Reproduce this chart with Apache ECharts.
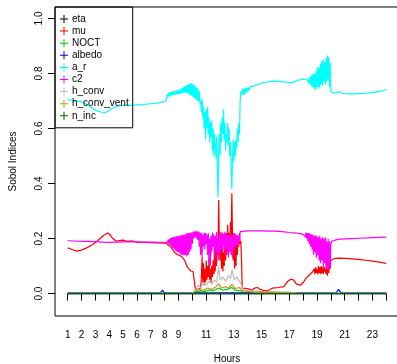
<!DOCTYPE html>
<html>
<head>
<meta charset="utf-8">
<script src="https://cdn.jsdelivr.net/npm/echarts@6/dist/echarts.min.js"></script>
<style>html,body{margin:0;padding:0;background:#fff}#c{width:397px;height:364px}</style>
</head>
<body>
<div id="c"></div>
<script>
const seriesNames = ['eta','mu','NOCT','albedo','a_r','c2','h_conv','h_conv_vent','n_inc'];
const seriesColors = ['#000000','#FF0000','#00CD00','#0000FF','#00FFFF','#FF00FF','#BEBEBE','#C8961E','#006400'];
const xTickValues = [1,2,3,4,5,6,7,8,9,10,11,12,13,14,15,16,17,18,19,20,21,22,23,24];
const xLabelValues = [1,2,3,4,5,6,7,8,9,11,13,15,17,19,21,23];
const yTickValues = [0,0.2,0.4,0.6,0.8,1.0];

const etaData = [[1,0],[24,0]];
const nincData = [[1,0],[24,0]];
const albedoData = [[1,0.003],[7.7,0.003],[7.85,0.012],[7.95,0.004],[8.1,0.003],[20.4,0.003],[20.55,0.015],[20.7,0.005],[20.8,0.01],[20.9,0.003],[24,0.003]];
const noctData = [[1,0.001],[10.1,0.001],[10.3,0.006],[10.6,0.01],[10.9,0.008],[11.2,0.013],[11.5,0.01],[11.9,0.02],[12.2,0.012],[12.5,0.015],[12.85,0.022],[13.1,0.012],[13.5,0.01],[13.7,0.003],[14.5,0.002],[24,0.001]];
const hconvventData = [[1,0.001],[10.0,0.001],[10.2,0.01],[10.5,0.015],[10.8,0.012],[11.1,0.02],[11.4,0.015],[11.7,0.025],[11.9,0.035],[12.1,0.02],[12.4,0.025],[12.6,0.02],[12.85,0.033],[13.1,0.018],[13.4,0.022],[13.6,0.012],[14,0.008],[14.5,0.005],[15,0.006],[16,0.004],[17,0.003],[17.5,0.001],[24,0.001]];
const hconvData = [[1,0.001],[10.0,0.001],[10.2,0.01],[10.4,0.03],[10.6,0.02],[10.8,0.04],[11.0,0.03],[11.2,0.045],[11.4,0.035],[11.6,0.05],[11.75,0.04],[11.9,0.098],[12.0,0.05],[12.2,0.06],[12.4,0.045],[12.6,0.065],[12.75,0.055],[12.87,0.087],[13.0,0.05],[13.2,0.06],[13.4,0.045],[13.55,0.03],[13.7,0.012],[14.2,0.01],[15,0.008],[16,0.007],[17,0.005],[17.5,0.002],[24,0.001]];

const arData = [[1.0,0.705],[1.3,0.702],[1.6,0.700],[2.0,0.697],[2.3,0.690],[2.6,0.680],[2.9,0.670],[3.1,0.664],[3.4,0.660],[3.7,0.658],[3.9,0.662],[4.1,0.670],[4.4,0.678],[4.8,0.683],[5.2,0.685],[5.6,0.684],[6.0,0.686],[6.5,0.688],[7.0,0.690],[7.5,0.692],[7.9,0.697],
[8.1,0.700],[8.15,0.71],[8.2,0.725],[8.25,0.715],[8.3,0.73],[8.35,0.718],[8.4,0.732],[8.45,0.72],[8.5,0.735],[8.55,0.72],[8.6,0.733],[8.65,0.722],[8.7,0.738],[8.75,0.723],[8.8,0.735],[8.85,0.724],[8.9,0.74],[8.95,0.725],[9.0,0.738],[9.05,0.726],[9.1,0.742],[9.15,0.727],[9.2,0.745],[9.25,0.728],[9.3,0.748],[9.35,0.73],[9.4,0.752],[9.45,0.73],[9.5,0.755],[9.55,0.73],[9.6,0.758],[9.65,0.728],[9.7,0.76],[9.75,0.725],[9.8,0.762],[9.85,0.72],[9.9,0.765],[9.95,0.72],[10.0,0.762],[10.05,0.715],[10.1,0.76],[10.15,0.71],[10.2,0.755],[10.25,0.705],[10.3,0.75],[10.35,0.70],[10.4,0.745],[10.45,0.70],[10.5,0.735],[10.55,0.69],
[10.6,0.70],[10.65,0.66],[10.7,0.71],[10.75,0.64],[10.8,0.68],[10.85,0.60],[10.9,0.66],[10.95,0.56],[11.0,0.67],[11.05,0.60],[11.1,0.68],[11.15,0.58],[11.2,0.64],[11.25,0.55],[11.3,0.62],[11.35,0.57],[11.4,0.63],[11.45,0.52],[11.5,0.60],[11.55,0.50],[11.6,0.58],[11.65,0.54],[11.7,0.49],[11.75,0.57],[11.8,0.45],[11.85,0.35],[11.9,0.52],[11.95,0.58],[12.0,0.50],[12.05,0.62],[12.1,0.55],[12.15,0.64],[12.2,0.58],[12.25,0.67],[12.3,0.56],[12.35,0.62],[12.4,0.52],[12.45,0.58],[12.5,0.55],[12.55,0.62],[12.6,0.54],[12.65,0.60],[12.7,0.50],[12.75,0.55],[12.8,0.45],[12.85,0.38],[12.9,0.50],[12.95,0.56],[13.0,0.48],[13.05,0.55],[13.1,0.50],[13.15,0.56],[13.2,0.53],[13.25,0.60],[13.3,0.55],[13.35,0.62],[13.4,0.58],[13.45,0.70],[13.5,0.735],[13.55,0.72],[13.6,0.745],[13.65,0.725],[13.7,0.74],[13.75,0.722],[13.8,0.748],[13.85,0.73],[13.9,0.745],[13.95,0.732],[14.0,0.75],[14.1,0.738],[14.2,0.752],[14.3,0.745],[14.5,0.755],[14.7,0.76],[15.0,0.765],[15.5,0.77],[16.0,0.772],[16.5,0.770],[16.9,0.768],[17.2,0.766],[17.5,0.772],[17.8,0.778],[18.1,0.78],[18.3,0.778],
[18.4,0.765],[18.45,0.785],[18.5,0.76],[18.55,0.79],[18.6,0.755],[18.65,0.795],[18.7,0.75],[18.75,0.80],[18.8,0.745],[18.85,0.80],[18.9,0.74],[18.95,0.81],[19.0,0.75],[19.05,0.825],[19.1,0.745],[19.15,0.82],[19.2,0.75],[19.25,0.835],[19.3,0.76],[19.35,0.845],[19.4,0.755],[19.45,0.85],[19.5,0.77],[19.55,0.84],[19.6,0.76],[19.65,0.855],[19.7,0.77],[19.75,0.865],[19.8,0.78],[19.85,0.86],[19.9,0.75],[19.95,0.84],[20.0,0.735],[20.05,0.73],[20.1,0.735],[20.2,0.728],[20.3,0.735],[20.4,0.73],[20.6,0.733],[20.8,0.728],[21.0,0.727],[21.5,0.726],[22.0,0.727],[22.5,0.728],[23.0,0.731],[23.5,0.735],[23.8,0.738],[24.0,0.742]];

const c2Data = [[1.0,0.192],[1.5,0.191],[2.0,0.19],[2.5,0.19],[3.0,0.189],[3.5,0.187],[4.0,0.186],[4.5,0.187],[5.0,0.188],[5.5,0.188],[6.0,0.188],[6.5,0.187],[7.0,0.187],[7.5,0.186],[8.0,0.186],[8.2,0.186],
[8.25,0.195],[8.3,0.18],[8.35,0.2],[8.4,0.175],[8.45,0.202],[8.5,0.17],[8.55,0.205],[8.6,0.165],[8.65,0.205],[8.7,0.16],[8.75,0.207],[8.8,0.155],[8.85,0.208],[8.9,0.15],[8.95,0.21],[9.0,0.15],[9.05,0.21],[9.1,0.145],[9.15,0.212],[9.2,0.14],[9.25,0.213],[9.3,0.14],[9.35,0.215],[9.4,0.138],[9.45,0.215],[9.5,0.14],[9.55,0.218],[9.6,0.135],[9.65,0.22],[9.7,0.14],[9.75,0.22],[9.8,0.15],[9.85,0.222],[9.9,0.16],[9.95,0.222],[10.0,0.18],[10.05,0.225],[10.1,0.2],[10.15,0.225],[10.2,0.205],[10.25,0.228],[10.3,0.2],[10.35,0.225],[10.4,0.195],[10.45,0.225],[10.5,0.17],[10.55,0.222],[10.6,0.14],[10.65,0.22],[10.7,0.135],[10.75,0.215],[10.8,0.17],[10.85,0.222],[10.9,0.16],[10.95,0.22],[11.0,0.18],[11.05,0.215],[11.1,0.14],[11.15,0.22],[11.2,0.11],[11.25,0.2],[11.3,0.10],[11.35,0.21],[11.4,0.15],[11.45,0.222],[11.5,0.17],[11.55,0.215],[11.6,0.13],[11.65,0.21],[11.7,0.16],[11.75,0.225],[11.8,0.14],[11.85,0.2],[11.9,0.12],[11.95,0.215],[12.0,0.15],[12.05,0.225],[12.1,0.16],[12.15,0.222],[12.2,0.15],[12.25,0.218],[12.3,0.17],[12.35,0.225],[12.4,0.14],[12.45,0.22],[12.5,0.16],[12.55,0.215],[12.6,0.13],[12.65,0.21],[12.7,0.15],[12.75,0.22],[12.8,0.14],[12.85,0.2],[12.9,0.13],[12.95,0.215],[13.0,0.16],[13.05,0.22],[13.1,0.17],[13.15,0.215],[13.2,0.18],[13.25,0.212],[13.3,0.17],[13.35,0.21],[13.4,0.19],[13.45,0.225],[13.5,0.227],[14.0,0.228],[14.5,0.228],[15.0,0.228],[15.5,0.227],[16.0,0.227],[16.5,0.225],[17.0,0.222],[17.5,0.22],[17.8,0.218],[18.0,0.215],
[18.1,0.22],[18.15,0.205],[18.2,0.222],[18.25,0.2],[18.3,0.22],[18.35,0.19],[18.4,0.22],[18.45,0.18],[18.5,0.218],[18.55,0.17],[18.6,0.215],[18.65,0.16],[18.7,0.215],[18.75,0.14],[18.8,0.212],[18.85,0.15],[18.9,0.21],[18.95,0.13],[19.0,0.21],[19.05,0.14],[19.1,0.205],[19.15,0.12],[19.2,0.21],[19.25,0.11],[19.3,0.2],[19.35,0.12],[19.4,0.205],[19.45,0.10],[19.5,0.2],[19.55,0.11],[19.6,0.205],[19.65,0.09],[19.7,0.19],[19.75,0.087],[19.8,0.2],[19.85,0.09],[19.9,0.19],[19.95,0.1],[20.0,0.18],[20.05,0.19],[20.1,0.196],[20.5,0.197],[21.0,0.199],[21.5,0.2],[22.0,0.201],[22.5,0.202],[23.0,0.203],[23.5,0.204],[24.0,0.205]];

const muData = [[1.0,0.166],[1.3,0.16],[1.65,0.154],[2.0,0.158],[2.4,0.167],[2.8,0.178],[3.1,0.19],[3.4,0.203],[3.6,0.212],[3.9,0.22],[4.05,0.214],[4.2,0.203],[4.5,0.19],[4.8,0.193],[5.0,0.194],[5.3,0.19],[5.6,0.192],[6.0,0.187],[6.5,0.186],[7.0,0.185],[7.5,0.184],[8.1,0.183],[8.3,0.175],[8.5,0.166],[8.7,0.15],[8.9,0.142],[9.1,0.138],[9.3,0.131],[9.45,0.12],[9.6,0.1],[9.75,0.09],[9.9,0.082],[10.05,0.08],[10.18,0.078],
[10.22,0.015],[10.3,0.01],[10.4,0.015],[10.5,0.01],[10.6,0.02],[10.65,0.06],[10.7,0.135],[10.75,0.04],[10.8,0.11],[10.85,0.03],[10.9,0.09],[10.95,0.04],[11.0,0.12],[11.05,0.05],[11.1,0.1],[11.15,0.06],[11.2,0.13],[11.25,0.05],[11.3,0.09],[11.35,0.04],[11.4,0.1],[11.45,0.06],[11.5,0.12],[11.55,0.07],[11.6,0.16],[11.65,0.08],[11.7,0.19],[11.75,0.10],[11.8,0.2],[11.85,0.14],[11.9,0.34],[11.95,0.18],[12.0,0.12],[12.05,0.2],[12.1,0.09],[12.15,0.17],[12.2,0.08],[12.25,0.15],[12.3,0.10],[12.35,0.19],[12.4,0.12],[12.45,0.22],[12.5,0.14],[12.55,0.25],[12.6,0.15],[12.65,0.22],[12.7,0.16],[12.75,0.26],[12.8,0.2],[12.85,0.365],[12.9,0.2],[12.95,0.12],[13.0,0.22],[13.05,0.09],[13.1,0.18],[13.15,0.1],[13.2,0.2],[13.25,0.14],[13.3,0.21],[13.35,0.17],[13.4,0.22],[13.45,0.18],[13.5,0.19],[13.55,0.12],[13.6,0.02],
[13.7,0.015],[14.0,0.018],[14.3,0.012],[14.5,0.02],[14.7,0.022],[14.9,0.015],[15.2,0.01],[15.5,0.012],[15.8,0.02],[16.2,0.022],[16.6,0.025],[16.9,0.045],[17.1,0.052],[17.3,0.05],[17.5,0.035],[17.8,0.03],[18.0,0.04],[18.2,0.055],[18.5,0.07],[18.7,0.08],
[18.8,0.09],[18.85,0.07],[18.9,0.095],[18.95,0.075],[19.0,0.09],[19.05,0.07],[19.1,0.1],[19.15,0.075],[19.2,0.095],[19.25,0.07],[19.3,0.1],[19.35,0.075],[19.4,0.095],[19.45,0.07],[19.5,0.1],[19.55,0.08],[19.6,0.09],[19.65,0.07],[19.7,0.095],[19.75,0.065],[19.8,0.1],[19.85,0.075],[19.9,0.11],[19.95,0.09],[20.0,0.12],[20.1,0.125],[20.3,0.128],[20.6,0.129],[21.0,0.128],[21.5,0.126],[22.0,0.124],[22.5,0.121],[23.0,0.118],[23.5,0.114],[24.0,0.11]];

const seriesData = [etaData, muData, noctData, albedoData, arData, c2Data, hconvData, hconvventData, nincData];

const plusIcon = 'path://M3.5,0 H4.5 V3.5 H8 V4.5 H4.5 V8 H3.5 V4.5 H0 V3.5 H3.5 Z';
const FONT = 'Liberation Sans, Arial, Helvetica, sans-serif';

const chart = echarts.init(document.getElementById('c'), null, {renderer: 'canvas'});
chart.setOption({
  animation: false,
  backgroundColor: '#ffffff',
  grid: {left: 55, top: 7, width: 344, height: 309, show: true, borderColor: '#000', borderWidth: 1,
    backgroundColor: 'transparent', containLabel: false, outerBoundsMode: 'none'},
  legend: {
    left: 55, top: 7, orient: 'vertical',
    padding: [6, 4, 6, 5], itemGap: 0.1, itemWidth: 8, itemHeight: 8,
    borderColor: '#000', borderWidth: 1, borderRadius: 0,
    icon: plusIcon,
    textStyle: {fontFamily: FONT, fontSize: 10, color: '#000', lineHeight: 12, padding: [0,0,0,-1]},
    data: seriesNames.map((n, i) => ({name: n, itemStyle: {color: seriesColors[i]}}))
  },
  xAxis: {
    type: 'value', min: 0.08, max: 24.92,
    name: 'Hours', nameLocation: 'middle', nameGap: 38,
    nameTextStyle: {fontFamily: FONT, fontSize: 10, color: '#000'},
    axisLine: {show: false},
    splitLine: {show: false},
    axisTick: {show: true, inside: false, length: 7, lineStyle: {color: '#000'}, customValues: xTickValues},
    axisLabel: {fontFamily: FONT, fontSize: 10, color: '#000', margin: 14, customValues: xLabelValues}
  },
  yAxis: {
    type: 'value', min: -0.0816, max: 1.0416,
    name: 'Sobol Indices', nameLocation: 'middle', nameGap: 37, nameRotate: 90,
    nameTextStyle: {fontFamily: FONT, fontSize: 10, color: '#000'},
    axisLine: {show: false},
    splitLine: {show: false},
    axisTick: {show: true, inside: false, length: 7, lineStyle: {color: '#000'}, customValues: yTickValues},
    axisLabel: {fontFamily: FONT, fontSize: 10, color: '#000', margin: 11, rotate: 90, customValues: yTickValues,
      formatter: v => v.toFixed(1)}
  },
  series: seriesNames.map((n, i) => ({
    name: n, type: 'line', data: seriesData[i], showSymbol: false, symbol: 'none',
    lineStyle: {color: seriesColors[i], width: 1.2}, itemStyle: {color: seriesColors[i]},
    clip: true
  }))
});
</script>
</body>
</html>
